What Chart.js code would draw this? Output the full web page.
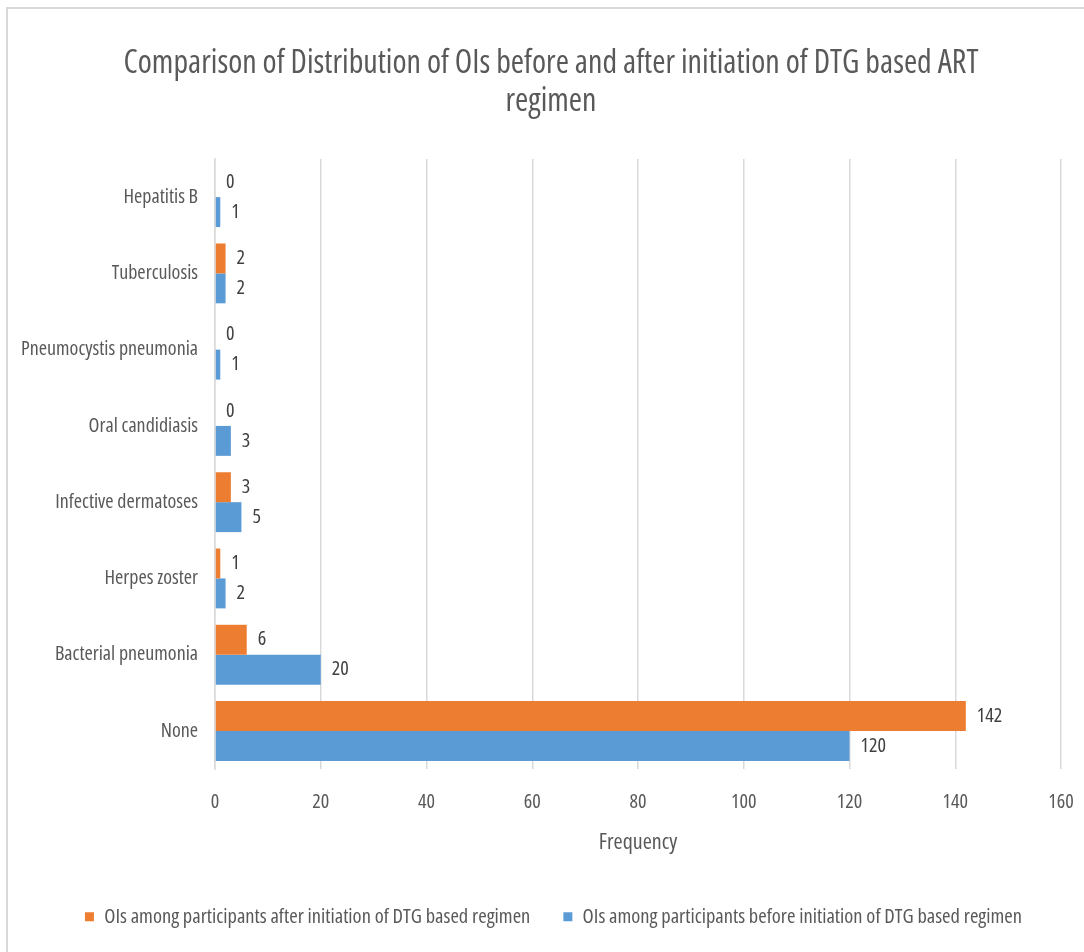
<!DOCTYPE html>
<html>
<head>
<meta charset="utf-8">
<script src="https://cdn.jsdelivr.net/npm/chart.js@4.4.0/dist/chart.umd.min.js"></script>
<style>
  html, body { margin: 0; padding: 0; background: #ffffff; overflow: hidden; }
  #wrap { position: relative; width: 1084px; height: 952px; overflow: hidden; background: #ffffff; }
  #frame { position: absolute; left: 6px; top: 7px; right: -10px; bottom: -10px; border-top: 2px solid #d9d9d9; border-left: 2px solid #d9d9d9; }
  canvas { position: absolute; left: 0; top: 0; }
</style>
</head>
<body>
<div id="wrap">
  <div id="frame"></div>
  <canvas id="c" width="1084" height="937"></canvas>
</div>
<script>
const categories = ['Hepatitis B', 'Tuberculosis', 'Pneumocystis pneumonia', 'Oral candidiasis', 'Infective dermatoses', 'Herpes zoster', 'Bacterial pneumonia', 'None'];
const afterValues = [0, 2, 0, 0, 3, 1, 6, 142];
const beforeValues = [1, 2, 1, 3, 5, 2, 20, 120];
const seriesNames = ['OIs among participants after initiation of DTG based regimen', 'OIs among participants before initiation of DTG based regimen'];
const titleLines = ['Comparison of Distribution of OIs before and after initiation of DTG based ART', 'regimen'];
const xAxisTitle = 'Frequency';
const xMin = 0, xMax = 160, xStep = 20;

const FAMILY = "'Open Sans', sans-serif";
const STRETCH = 'condensed';
const TEXT = '#595959';

const dataLabels = {
  id: 'dataLabels',
  afterDatasetsDraw(chart) {
    const ctx = chart.ctx;
    ctx.save();
    ctx.font = 'normal condensed 20px ' + FAMILY;
    ctx.fillStyle = '#404040';
    ctx.textAlign = 'left';
    ctx.textBaseline = 'middle';
    chart.data.datasets.forEach((ds, i) => {
      const meta = chart.getDatasetMeta(i);
      meta.data.forEach((el, j) => {
        ctx.fillText(String(ds.data[j]), el.x + 11, el.y);
      });
    });
    ctx.restore();
  }
};

const shiftBoxes = {
  id: 'shiftBoxes',
  afterLayout(chart) {
    if (chart.titleBlock) { chart.titleBlock.left += 41; }
    if (chart.legend) { chart.legend.left += 23; chart.legend.right += 23; }
  }
};

new Chart(document.getElementById('c'), {
  type: 'bar',
  data: {
    labels: categories,
    datasets: [
      { label: seriesNames[0], data: afterValues, backgroundColor: '#ED7D31', borderWidth: 0 },
      { label: seriesNames[1], data: beforeValues, backgroundColor: '#5B9BD5', borderWidth: 0 }
    ]
  },
  options: {
    indexAxis: 'y',
    responsive: false,
    devicePixelRatio: 1,
    animation: false,
    categoryPercentage: 0.785,
    barPercentage: 1.0,
    layout: { padding: { left: 0, right: 23, top: 45, bottom: 0 } },
    plugins: {
      title: {
        display: true,
        text: titleLines,
        color: TEXT,
        font: { family: FAMILY, size: 32, weight: STRETCH, lineHeight: 38 / 32 },
        padding: { top: 0, bottom: 38 }
      },
      legend: {
        position: 'bottom',
        labels: {
          color: TEXT,
          font: { family: FAMILY, size: 20.5, weight: STRETCH },
          boxWidth: 9,
          boxHeight: 9,
          padding: 33
        }
      },
      tooltip: { enabled: false }
    },
    scales: {
      x: {
        min: xMin, max: xMax,
        ticks: { stepSize: xStep, color: TEXT, font: { family: FAMILY, size: 20, weight: STRETCH }, padding: 21 },
        grid: { color: '#d9d9d9', lineWidth: 1.5, drawTicks: false },
        border: { display: false },
        title: { display: true, text: xAxisTitle, color: TEXT, font: { family: FAMILY, size: 22, weight: STRETCH }, padding: { top: -6, bottom: 18 } },
        afterFit(scale) { scale.paddingRight = 0; scale.paddingLeft = 0; }
      },
      y: {
        ticks: { color: TEXT, font: { family: FAMILY, size: 20, weight: STRETCH }, padding: 17 },
        grid: { display: false, drawTicks: false },
        border: { display: true, color: '#d9d9d9', width: 1.5 },
        afterFit(scale) { scale.width = 215; }
      }
    }
  },
  plugins: [dataLabels, shiftBoxes]
});
</script>
</body>
</html>
